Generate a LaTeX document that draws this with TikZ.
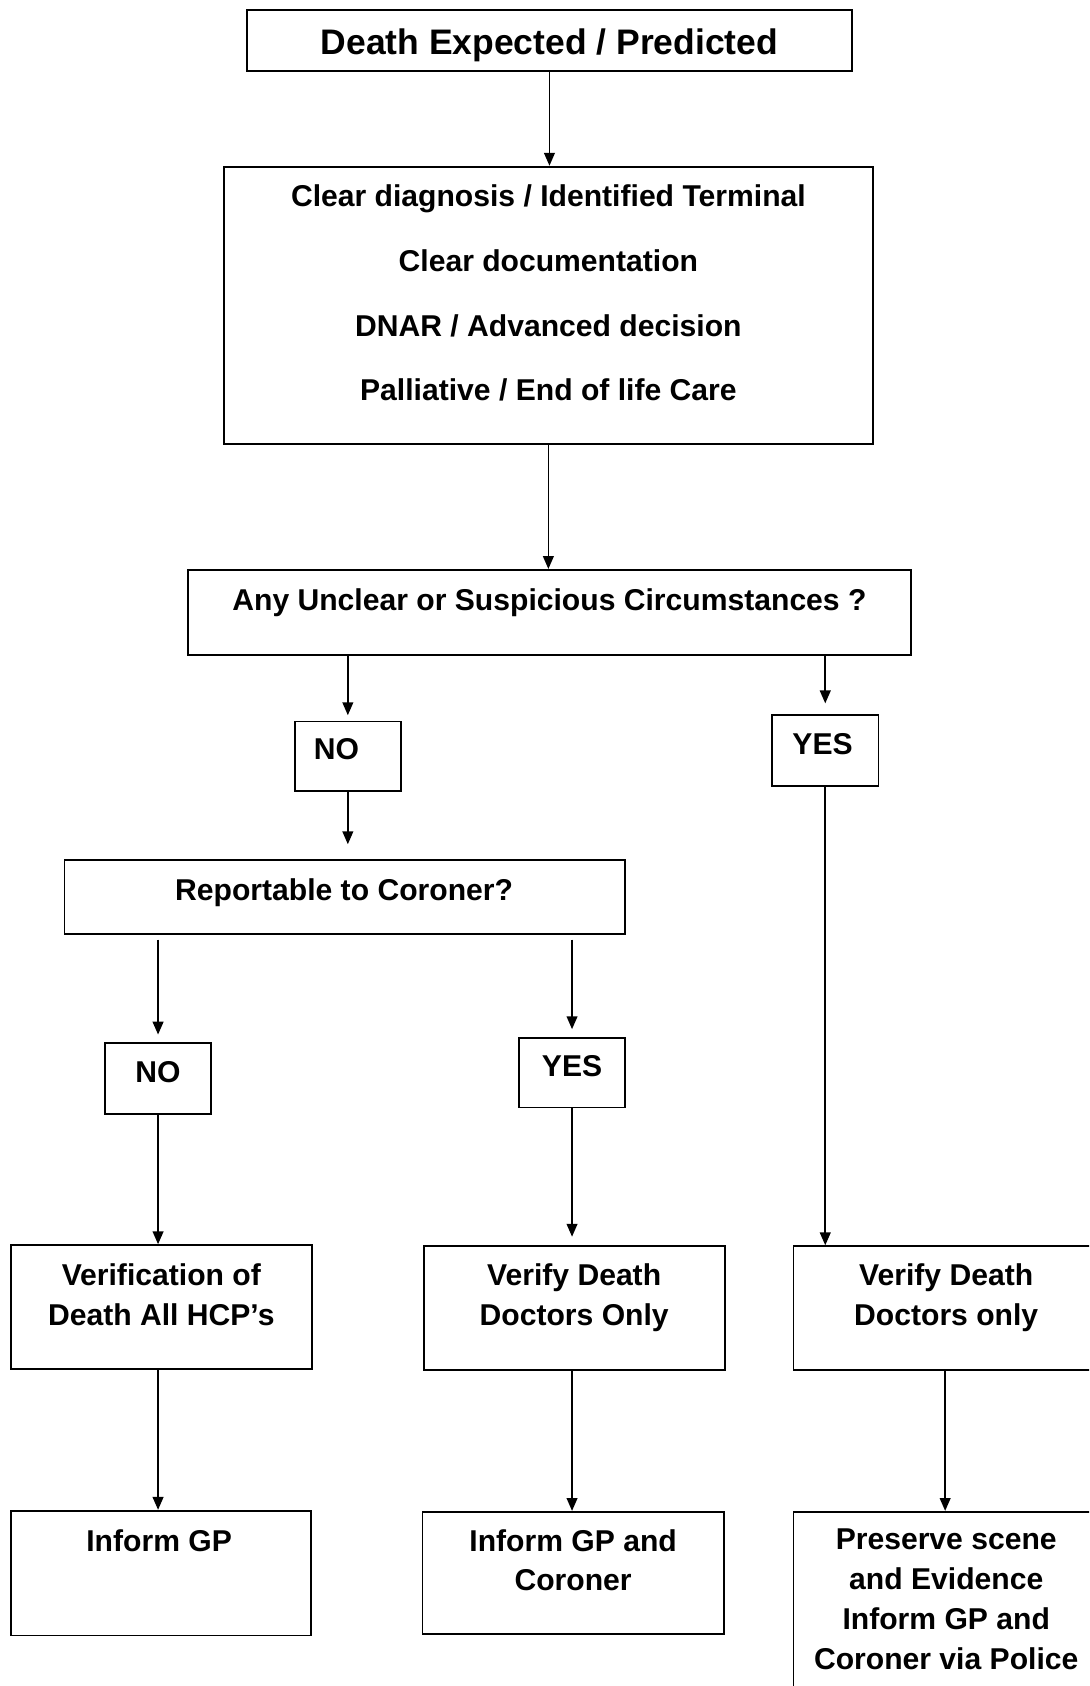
\documentclass[tikz,border=0pt]{standalone}
\usepackage{fontspec}
\setmainfont{Liberation Sans}
\usetikzlibrary{arrows.meta,fit}
\begin{document}
\begin{tikzpicture}[x=1pt,y=-1pt,
  box/.style={draw, line width=1.7pt, inner sep=0pt, rectangle},
  txt/.style={anchor=north, inner sep=0pt, align=center, font=\fontsize{28}{37}\selectfont\bfseries},
  arr/.style={line width=1.6pt, -{Triangle[length=12pt,width=10pt]}}]
\useasboundingbox (0,0) rectangle (1013,1568);
\clip (0,0) rectangle (1013,1568);
% boxes
\node[box, fit={(230,9) (792,66)}] (b1) {};
\node[box, fit={(208,155) (812,413)}] (b2) {};
\node[box, fit={(175,530) (847,609)}] (b3) {};
\node[box, fit={(274,671) (373,736)}] (no1) {};
\node[box, fit={(718,665) (817,731)}] (yes1) {};
\node[box, fit={(60,800) (581,869)}] (rep) {};
\node[box, fit={(98,970) (196,1036)}] (no2) {};
\node[box, fit={(483,965) (581,1030)}] (yes2) {};
\node[box, fit={(10,1158) (290,1273)}] (ver) {};
\node[box, fit={(394,1159) (674,1274)}] (vd) {};
\node[box, fit={(738,1159) (1020,1274)}] (vd3) {};
\node[box, fit={(10,1405) (289,1521)}] (gp) {};
\node[box, fit={(393,1406) (673,1520)}] (gpc) {};
\node[box, fit={(738,1406) (1020,1590)}] (pres) {};
% texts
\node[txt, font=\fontsize{33}{38}\selectfont\bfseries] (t1) at (511,26.5) {Death Expected / Predicted};
\node[txt, font=\fontsize{28}{60}\selectfont\bfseries] (t2) at (510,172) {Clear diagnosis / Identified Terminal\\Clear documentation\\DNAR / Advanced decision\\Palliative / End of life Care};
\node[txt] (t3) at (511,547) {Any Unclear or Suspicious Circumstances ?};
\node[txt] (tno1) at (313,687) {NO};
\node[txt] (tyes1) at (765,682) {YES};
\node[txt] (trep) at (320,817) {Reportable to Coroner?};
\node[txt] (tno2) at (147,987) {NO};
\node[txt] (tyes2) at (532,981) {YES};
\node[txt] (tver) at (150,1175) {Verification of\\Death All HCP’s};
\node[txt] (tvd) at (534,1175) {Verify Death\\Doctors Only};
\node[txt] (tvd3) at (880,1175) {Verify Death\\Doctors only};
\node[txt] (tgp) at (148,1422) {Inform GP};
\node[txt] (tgpc) at (533,1422) {Inform GP and\\Coroner};
\node[txt] (tpres) at (880,1422) {Preserve scene\\and Evidence\\Inform GP and\\Coroner via Police};
% arrows
\draw[arr] (b1.south) -- (b1.south |- b2.north);
\draw[arr] (b2.south) -- (b2.south |- b3.north);
\draw[arr, shorten >=5pt] (b3.south -| no1.north) -- (no1.north);
\draw[arr, shorten >=10pt] (b3.south -| yes1.north) -- (yes1.north);
\draw[arr, shorten >=14pt] (no1.south) -- (no1.south |- rep.north);
\draw[arr, shorten <=4pt, shorten >=7pt] (rep.south -| no2.north) -- (no2.north);
\draw[arr, shorten <=4pt, shorten >=7pt] (rep.south -| yes2.north) -- (yes2.north);
\draw[arr] (no2.south) -- (no2.south |- ver.north);
\draw[arr, shorten >=8pt] (yes2.south) -- (yes2.south |- vd.north);
\draw[arr] (yes1.south) -- (yes1.south |- vd3.north);
\draw[arr] (ver.south -| no2.south) -- (gp.north -| no2.south);
\draw[arr] (vd.south -| yes2.south) -- (gpc.north -| yes2.south);
\draw[arr] (vd3.south) -- (vd3.south |- pres.north);
\end{tikzpicture}
\end{document}
